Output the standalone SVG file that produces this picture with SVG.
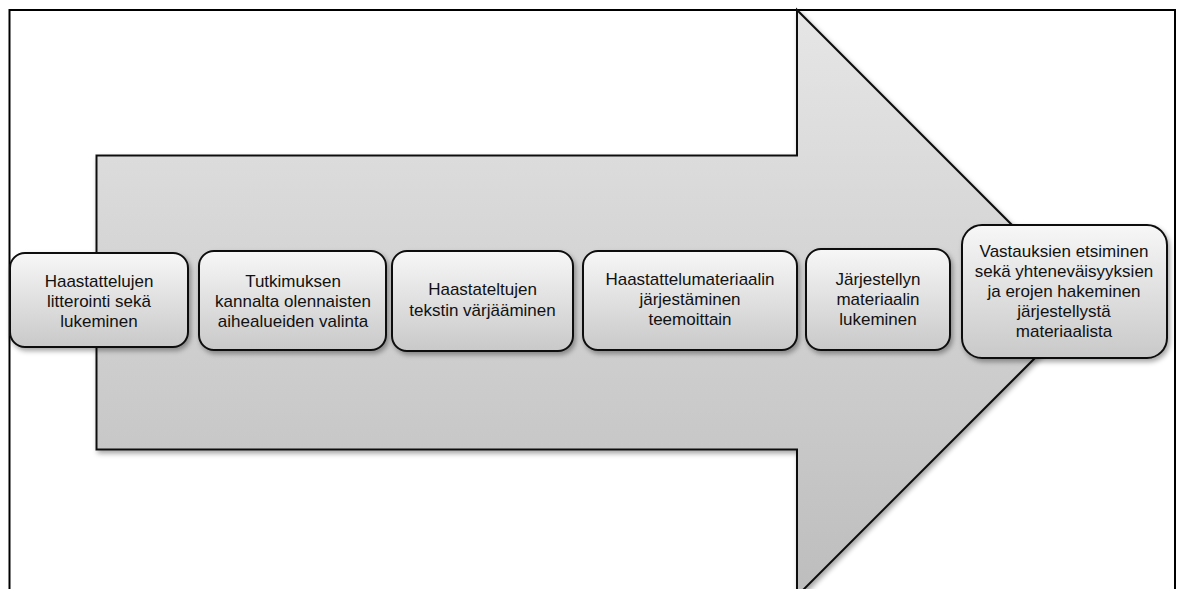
<svg xmlns="http://www.w3.org/2000/svg" width="1179" height="589" viewBox="0 0 1179 589">
<defs>
<linearGradient id="arrowGrad" x1="0" y1="0" x2="0" y2="1">
<stop offset="0" stop-color="#e6e6e6"/>
<stop offset="1" stop-color="#bdbdbd"/>
</linearGradient>
<linearGradient id="boxGrad" x1="0" y1="0" x2="0" y2="1">
<stop offset="0" stop-color="#f7f7f7"/>
<stop offset="1" stop-color="#c9c9c9"/>
</linearGradient>
<filter id="shadow" x="-10%" y="-10%" width="130%" height="130%">
<feDropShadow dx="2" dy="3" stdDeviation="2.5" flood-color="#000" flood-opacity="0.35"/>
</filter>
</defs>
<style>
.frame{fill:#fff;stroke:#000;stroke-width:2}
.arrow{fill:url(#arrowGrad);stroke:#111;stroke-width:2;stroke-linejoin:miter}
.box{fill:url(#boxGrad);stroke:#111;stroke-width:2}
.lbl{font-family:"Liberation Sans",Arial,sans-serif;font-size:17px;fill:#111;text-anchor:middle}
</style>
<rect class="frame" x="9.5" y="10" width="1165.5" height="600"/>
<g id="arrow">
<path class="arrow" filter="url(#shadow)" d="M96.5,155.5 L797,155.5 L797,10 L1090,303 L797,596 L797,449.5 L96.5,449.5 Z"/>
</g>
<g id="connectors"></g>
<g id="node1">
<rect class="box" filter="url(#shadow)" x="10" y="253" width="178" height="94" rx="15"/>
<text class="lbl" x="99" y="287">Haastattelujen</text>
<text class="lbl" x="99" y="307">litterointi sekä</text>
<text class="lbl" x="99" y="327">lukeminen</text>
</g>
<g id="node2">
<rect class="box" filter="url(#shadow)" x="199" y="251" width="187" height="99" rx="15"/>
<text class="lbl" x="293" y="287">Tutkimuksen</text>
<text class="lbl" x="293" y="307">kannalta olennaisten</text>
<text class="lbl" x="293" y="327">aihealueiden valinta</text>
</g>
<g id="node3">
<rect class="box" filter="url(#shadow)" x="392" y="251" width="181" height="100" rx="15"/>
<text class="lbl" x="482.5" y="295">Haastateltujen</text>
<text class="lbl" x="482.5" y="316">tekstin värjääminen</text>
</g>
<g id="node4">
<rect class="box" filter="url(#shadow)" x="583" y="251" width="214" height="99" rx="15"/>
<text class="lbl" x="690" y="285">Haastattelumateriaalin</text>
<text class="lbl" x="690" y="305">järjestäminen</text>
<text class="lbl" x="690" y="325">teemoittain</text>
</g>
<g id="node5">
<rect class="box" filter="url(#shadow)" x="806" y="249" width="144" height="101" rx="15"/>
<text class="lbl" x="878" y="285">Järjestellyn</text>
<text class="lbl" x="878" y="305">materiaalin</text>
<text class="lbl" x="878" y="325">lukeminen</text>
</g>
<g id="node6">
<rect class="box" filter="url(#shadow)" x="962" y="225" width="205" height="133" rx="20"/>
<text class="lbl" x="1064" y="257">Vastauksien etsiminen</text>
<text class="lbl" x="1064" y="277">sekä yhteneväisyyksien</text>
<text class="lbl" x="1064" y="297">ja erojen hakeminen</text>
<text class="lbl" x="1064" y="317">järjestellystä</text>
<text class="lbl" x="1064" y="337">materiaalista</text>
</g>
</svg>
